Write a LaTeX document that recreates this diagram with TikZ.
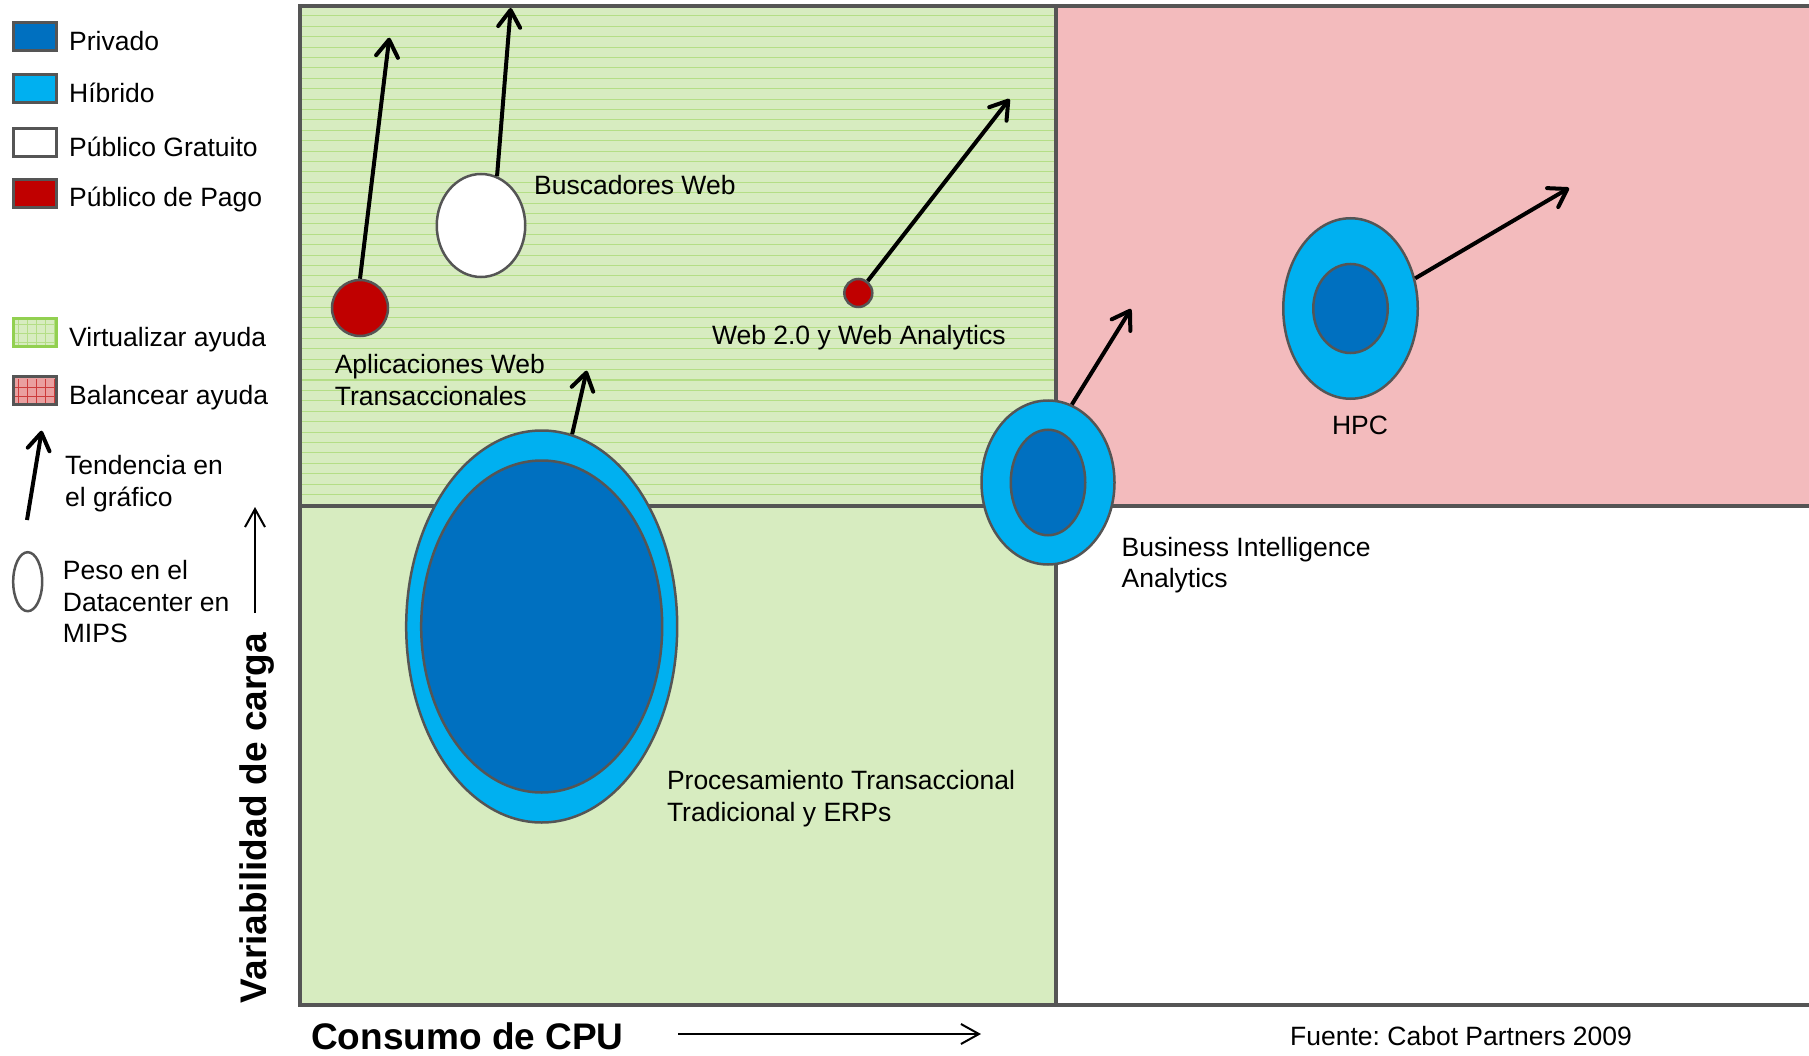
\documentclass[tikz,border=0pt]{standalone}
\usepackage{fontspec}
\setmainfont{Liberation Sans}
\frenchspacing
\usepackage{tikz}
\usetikzlibrary{arrows.meta}
\usetikzlibrary{shapes.geometric}
\usetikzlibrary{positioning}
\definecolor{PrivColor}{RGB}{0,112,192}
\definecolor{HibColor}{RGB}{0,176,240}
\definecolor{PagoColor}{RGB}{192,0,0}
\definecolor{EdgeGray}{RGB}{85,85,85}
\definecolor{VirtGreen}{RGB}{215,236,192}
\definecolor{VirtLine}{RGB}{180,222,134}
\definecolor{VirtEdge}{RGB}{146,208,80}
\definecolor{BalPink}{RGB}{243,187,189}
\definecolor{BalFill}{RGB}{234,160,160}
\definecolor{BalLine}{RGB}{205,60,60}
\tikzstyle{trend} = [line width=4pt, black, -{Straight Barb[length=17pt,width=22pt,round]}]
\tikzstyle{axisarrow} = [line width=2pt, black, -{Straight Barb[length=18pt,width=20pt]}]
\tikzstyle{blob} = [ellipse, draw=EdgeGray, line width=2.5pt, inner sep=0pt]
\tikzstyle{txt} = [inner sep=0pt, align=left, font=\fontsize{26.5pt}{31.5pt}\selectfont]
\tikzstyle{bigtxt} = [inner sep=0pt, font=\fontsize{37pt}{44pt}\selectfont\bfseries]
\tikzstyle{legbox} = [draw=EdgeGray, line width=3pt, minimum width=43pt, minimum height=28pt, inner sep=0pt]

\begin{document}
\begin{tikzpicture}[x=1pt, y=-1pt]
\useasboundingbox (0,0) rectangle (1809,1056);

% quadrants
\fill[VirtGreen] (300,6) rectangle (1056,1005);
\fill[BalPink] (1056,6) rectangle (1809,505.5);
\foreach \k in {0,...,46}
  \draw[VirtLine, line width=1pt] (302,{16+10.4*\k}) -- (1054,{16+10.4*\k});
\draw[EdgeGray, line width=4pt] (1809,6) -- (300,6) -- (300,1005) -- (1809,1005);
\draw[EdgeGray, line width=4pt] (1056,6) -- (1056,1005);
\draw[EdgeGray, line width=4pt] (300,505.5) -- (1809,505.5);

% workloads
\node[blob, fill=PagoColor, minimum width=56, minimum height=56] (aplic) at (360,308) {};
\node[blob, fill=white, minimum width=88.5, minimum height=103] (busc) at (481,225.5) {};
\node[blob, fill=PagoColor, minimum width=28, minimum height=28] (web) at (858.3,293) {};
\node[blob, fill=HibColor, minimum width=271, minimum height=392] (proc) at (541.7,626.5) {};
\node[blob, fill=PrivColor, minimum width=241, minimum height=332] (procin) at (proc.center) {};
\node[blob, fill=HibColor, minimum width=133, minimum height=164] (bi) at (1048,482.5) {};
\node[blob, fill=PrivColor, minimum width=74.5, minimum height=105.5] (biin) at (bi.center) {};
\node[blob, fill=HibColor, minimum width=134.5, minimum height=180.5] (hpc) at (1350.5,308.5) {};
\node[blob, fill=PrivColor, minimum width=74.5, minimum height=89] (hpcin) at (hpc.center) {};

% trends
\coordinate (aplicTip) at (389.3,37.7);
\coordinate (buscTip) at (510.7,8);
\coordinate (webTip) at (1009.5,99);
\coordinate (procTip) at (586.7,370.7);
\coordinate (biTip) at (1131,309);
\coordinate (hpcTip) at (1569,188);
\draw[trend] (aplic.north) -- (aplicTip);
\draw[trend] (busc.72) -- (buscTip);
\draw[trend] (web.52) -- (webTip);
\draw[trend] (proc.81) -- (procTip);
\draw[trend] (bi.73) -- (biTip);
\draw[trend] (hpc.25) -- (hpcTip);

\node[txt, anchor=west] (buscLbl) at (534,184.6) {Buscadores Web};
\node[txt, anchor=west] (aplicLbl) at (334.6,380) {Aplicaciones Web\\Transaccionales};
\node[txt, anchor=west] (webLbl) at (711.8,337.4) {Web 2.0 y Web Analytics};
\node[txt] (hpcLbl) at (1360,425.7) {HPC};
\node[txt, anchor=west] (biLbl) at (1121.4,565) {Business Intelligence\\Analytics};
\node[txt, anchor=west] (procLbl) at (666.8,798.8) {Procesamiento Transaccional\\Tradicional y ERPs};

% axes
\node[bigtxt, anchor=west] (xLbl) at (311,1036) {Consumo de CPU};
\node[bigtxt, rotate=90] (yLbl) at (257,818) {Variabilidad de carga};
\coordinate (xTail) at (678,1034);
\coordinate (xTip) at (981,1034);
\coordinate (yTail) at (255,613);
\coordinate (yTip) at (255,507);
\draw[axisarrow] (xTail) -- (xTip);
\draw[axisarrow] (yTail) -- (yTip);
\node[txt, anchor=west] (src) at (1290,1036) {Fuente: Cabot Partners 2009};

% legend
\foreach \y/\c/\t/\n in {36.5/PrivColor/Privado/priv, 88.3/HibColor/Híbrido/hib, 142.3/white/Público Gratuito/grat, 194/PagoColor/Público de Pago/pago} {
  \node[legbox, fill=\c] (box\n) at (35,\y) {};
  \node[txt, anchor=west] (leg\n) at (69,{\y+5}) {\t};
}
\node[legbox, draw=VirtEdge, fill=VirtGreen] (boxvirt) at (35,332.3) {};
\draw[VirtLine, step=9pt] (15,320) grid (55,345);
\node[txt, anchor=west] (legvirt) at (69,339.8) {Virtualizar ayuda};
\node[legbox, fill=BalFill] (boxbal) at (35,390.8) {};
\draw[BalLine, step=9pt] (15,379) grid (55,403);
\node[txt, anchor=west] (legbal) at (69,397.8) {Balancear ayuda};

\coordinate (tendTail) at (27,520);
\coordinate (tendTip) at (41.7,430.7);
\draw[trend] (tendTail) -- (tendTip);
\node[txt, anchor=west] (legtend) at (65,483.8) {Tendencia en\\el gráfico};
\node[blob, fill=white, minimum width=29, minimum height=59] (pesoMark) at (27.7,581.7) {};
\node[txt, anchor=west] (legpeso) at (62.7,601.7) {Peso en el\\Datacenter en\\MIPS};
\end{tikzpicture}
\end{document}
